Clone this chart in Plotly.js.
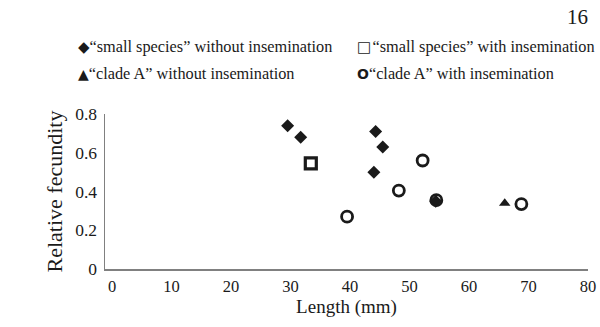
<!DOCTYPE html>
<html>
<head>
<meta charset="utf-8">
<script src="https://cdn.plot.ly/plotly-3.0.1.min.js"></script>
<style>html,body{margin:0;padding:0;background:#fff;}#chart{width:600px;height:327px;}</style>
</head>
<body>
<div id="chart"></div>
<script>
// Data
const smallNoInsemX = [29.5, 31.7, 44.3, 45.5, 44.0, 54.4];
const smallNoInsemY = [0.74, 0.68, 0.71, 0.63, 0.50, 0.35];
const smallInsemX = [33.4];
const smallInsemY = [0.545];
const cladeNoInsemX = [66.0];
const cladeNoInsemY = [0.34];
const cladeInsemX = [52.2, 48.2, 54.5, 39.5, 68.8];
const cladeInsemY = [0.56, 0.405, 0.355, 0.27, 0.335];
const xTicks = [0, 10, 20, 30, 40, 50, 60, 70, 80];
const yTicks = [0, 0.2, 0.4, 0.6, 0.8];
const seriesNames = [
  '“small species” without insemination',
  '“small species” with insemination',
  '“clade A” without insemination',
  '“clade A” with insemination'
];
const legendGlyphs = ['◆', '□', '▲', 'O'];

const ink = '#1a1a1a';
const serif = '"Liberation Serif", "Times New Roman", serif';

const traces = [
  {x: smallNoInsemX, y: smallNoInsemY, mode: 'markers', type: 'scatter', name: seriesNames[0],
   marker: {symbol: 'diamond', size: 10, color: ink}},
  {x: smallInsemX, y: smallInsemY, mode: 'markers', type: 'scatter', name: seriesNames[1],
   marker: {symbol: 'square-open', size: 11, color: ink, line: {width: 3.2, color: ink}}},
  {x: cladeNoInsemX, y: cladeNoInsemY, mode: 'markers', type: 'scatter', name: seriesNames[2],
   marker: {symbol: 'triangle-up', size: 10, color: ink}},
  {x: cladeInsemX, y: cladeInsemY, mode: 'markers', type: 'scatter', name: seriesNames[3],
   marker: {symbol: 'circle-open', size: 11, color: ink, line: {width: 2.8, color: ink}}}
];

// plot-area pixel helpers for legend placement (plot area: x 105..588, y 114..269)
const px = v => (v - 105) / 483;
const py = v => (269 - v) / 155;
const legendPos = [[76, 47], [355, 47], [76, 73], [355, 73]];
const glyphStyle = [
  'font-family:DejaVu Sans;font-size:15px',
  'font-family:DejaVu Sans;font-size:15px',
  'font-family:DejaVu Sans;font-size:14px',
  'font-family:DejaVu Sans;font-size:14px;font-weight:bold'
];
const legendAnn = seriesNames.map((n, i) => ({
  text: '<span style="' + glyphStyle[i] + '">' + legendGlyphs[i] + '</span>' + (i === 1 ? '\u200A' : '') + n,
  xref: 'paper', yref: 'paper', x: px(legendPos[i][0]), y: py(legendPos[i][1]),
  xanchor: 'left', yanchor: 'middle', showarrow: false,
  font: {family: serif, size: 16.3, color: ink}
}));

const layout = {
  width: 600, height: 327,
  margin: {l: 105, r: 12, t: 114, b: 58},
  paper_bgcolor: '#fff', plot_bgcolor: '#fff',
  font: {family: serif, color: ink, size: 17},
  showlegend: false,
  xaxis: {
    range: [-1.2, 80], tickvals: xTicks, ticktext: xTicks.map(String),
    showgrid: false, zeroline: false, showline: true, linecolor: '#808080', linewidth: 1.5,
    ticks: '', ticklabelstandoff: 2,
    tickfont: {family: serif, size: 16.5, color: ink},
    title: {text: 'Length (mm)', font: {family: serif, size: 19, color: ink}, standoff: 2}
  },
  yaxis: {
    range: [0, 0.8], tickvals: yTicks, ticktext: yTicks.map(String),
    showgrid: false, zeroline: false, showline: true, linecolor: '#808080', linewidth: 1.5,
    ticks: '', ticklabelstandoff: 3,
    tickfont: {family: serif, size: 17.5, color: ink},
    title: {text: 'Relative fecundity', font: {family: serif, size: 22, color: ink}, standoff: 6}
  },
  annotations: legendAnn.concat([
    {text: '16', xref: 'paper', yref: 'paper', x: px(590), y: py(17),
     xanchor: 'right', yanchor: 'middle', showarrow: false,
     font: {family: serif, size: 21, color: ink}}
  ])
};

Plotly.newPlot('chart', traces, layout, {displayModeBar: false, staticPlot: true});
</script>
</body>
</html>
